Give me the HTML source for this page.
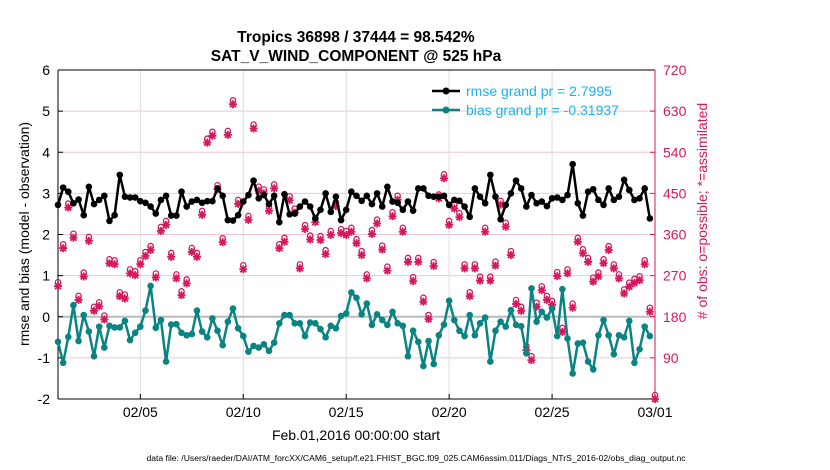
<!DOCTYPE html>
<html><head><meta charset="utf-8"><style>
body{margin:0;background:#fff;}
svg{display:block;font-family:"Liberation Sans",sans-serif;}
</style></head><body>
<svg id="chart" width="830" height="470" viewBox="0 0 830 470" xmlns="http://www.w3.org/2000/svg">
<rect width="830" height="470" fill="#fff"/>
<text x="356" y="42" text-anchor="middle" font-size="15.5" font-weight="bold">Tropics 36898 / 37444 = 98.542%</text>
<text x="356" y="61" text-anchor="middle" font-size="15.5" font-weight="bold">SAT_V_WIND_COMPONENT @ 525 hPa</text>
<g id="grid"></g>
<g id="axes"></g>
<g id="marks"></g>
<g>
<line x1="432" y1="91" x2="460" y2="91" stroke="#000" stroke-width="2.5"/><circle cx="446" cy="91" r="3.5" fill="#000"/>
<text x="466" y="96" font-size="14" fill="#1ab2f0">rmse grand pr = 2.7995</text>
<line x1="432" y1="110" x2="460" y2="110" stroke="#0a8482" stroke-width="2.5"/><circle cx="446" cy="110" r="3.5" fill="#0a8482"/>
<text x="466" y="115" font-size="14" fill="#1ab2f0">bias grand pr = -0.31937</text>
</g>
<text transform="translate(29,234) rotate(-90)" text-anchor="middle" font-size="14">rmse and bias (model - observation)</text>
<text transform="translate(707,211) rotate(-90)" text-anchor="middle" font-size="14" fill="#d6185e"># of obs: o=possible; *=assimilated</text>
<text x="356" y="440" text-anchor="middle" font-size="14">Feb.01,2016 00:00:00 start</text>
<text x="416" y="461" text-anchor="middle" font-size="8.6">data file: /Users/raeder/DAI/ATM_forcXX/CAM6_setup/f.e21.FHIST_BGC.f09_025.CAM6assim.011/Diags_NTrS_2016-02/obs_diag_output.nc</text>
</svg>
<script>
const dayStep = 0.25;
const rmse = [2.72,3.14,3.04,2.76,2.85,2.47,3.16,2.74,2.84,2.94,
2.33,2.47,3.45,2.92,2.90,2.90,2.81,2.77,2.68,2.51,
2.84,2.94,2.46,2.46,3.04,2.68,2.80,2.84,2.77,2.81,
2.81,3.12,2.94,2.35,2.34,2.47,2.80,2.96,3.31,2.88,
2.96,2.74,2.94,2.30,2.98,2.49,2.51,2.68,2.80,2.68,
2.39,2.60,3.00,2.55,2.92,
2.35,2.60,3.04,2.94,2.82,2.94,2.74,3.00,2.68,3.16,
2.80,2.77,2.60,2.80,2.58,3.12,3.12,2.94,2.92,2.92,
2.94,2.72,2.84,2.82,2.68,2.43,3.12,2.92,2.76,3.45,
2.92,2.37,2.72,3.00,3.31,3.12,2.68,2.96,2.76,2.80,
2.69,2.88,2.90,2.84,2.96,3.71,2.76,2.46,3.04,3.10,
2.84,2.72,3.12,2.84,2.92,3.33,3.08,2.84,2.88,3.12,2.39];
const bias = [-0.61,-1.12,-0.49,0.28,-0.59,0.04,-0.36,-0.96,-0.24,-0.75,
-0.22,-0.26,-0.26,-0.10,-0.57,-0.39,-0.24,0.15,0.75,-0.27,
-0.08,-1.09,-0.19,-0.18,-0.39,-0.45,-0.42,0.15,-0.36,-0.50,
-0.04,-0.34,-0.69,-0.12,0.20,-0.28,-0.47,-0.85,-0.71,-0.75,
-0.67,-0.83,-0.63,-0.16,0.04,0.04,-0.16,-0.16,-0.47,-0.14,
-0.16,-0.30,-0.50,-0.22,-0.28,
0.02,0.08,0.59,0.46,0.06,0.32,-0.20,0.06,-0.08,-0.20,
0.12,-0.16,-0.22,-0.96,-0.34,-0.61,-1.20,-0.59,-1.15,-0.45,
-0.19,0.39,-0.08,-0.34,-0.47,0.04,-0.45,-0.16,-0.02,-1.09,
-0.34,-0.12,-0.24,0.16,-0.20,-0.23,-0.89,0.69,-0.12,0.12,
-0.02,0.20,-0.47,0.67,-0.53,-1.38,-0.65,-0.63,-1.09,-1.28,
-0.45,-0.08,-0.45,-0.91,-0.45,-0.50,-0.10,-1.12,-0.79,-0.24,-0.47];
const obsCount = [247,330,419,353,217,268,346,193,203,174,
297,295,225,220,275,271,295,313,326,266,
368,381,311,264,227,253,322,311,403,561,
576,459,343,578,645,427,284,392,592,456,
450,412,461,330,344,435,408,286,372,349,
387,348,317,359,422,
363,359,366,341,315,264,361,384,327,281,
400,436,366,300,258,300,213,175,291,439,
483,381,417,398,286,225,286,259,366,259,
292,425,377,315,208,193,107,85,202,238,
217,206,269,147,275,200,344,319,300,257,
268,297,326,286,264,231,246,254,260,295,191,0];
const xTickLabels = ["02/05","02/10","02/15","02/20","02/25","03/01"];
const xTickDays = [4,9,14,19,24,29];
const yLeftTicks = [6,5,4,3,2,1,0,-1,-2];
const yRightTicks = [720,630,540,450,360,270,180,90];

const NS="http://www.w3.org/2000/svg";
const X0=58,X1=655,Y0=70,Y1=399,DAYS=29;
const xS=d=>X0+d*(X1-X0)/DAYS;
const yL=v=>Y1-(v+2)*(Y1-Y0)/8;
const yR=c=>Y1-c*(Y1-Y0)/720;
function mk(tag,attrs,parent){const e=document.createElementNS(NS,tag);for(const k in attrs)e.setAttribute(k,attrs[k]);parent.appendChild(e);return e;}
const grid=document.getElementById('grid'),axes=document.getElementById('axes'),marks=document.getElementById('marks');

yLeftTicks.forEach(v=>{
  if(v>-2&&v<6){const g=mk('line',{x1:X0,x2:X1,y1:yL(v),y2:yL(v),stroke:'#f2c6d6','stroke-width':1},grid);
  
  }
  const t=mk('text',{x:X0-8,y:yL(v)+5,'text-anchor':'end','font-size':14},axes);t.textContent=v;
  
  
  mk('line',{x1:X0,x2:X0+5,y1:yL(v),y2:yL(v),stroke:'#000'},axes);
});
xTickDays.forEach((d,i)=>{
  if(d<DAYS){const g=mk('line',{x1:xS(d),x2:xS(d),y1:Y0,y2:Y1,stroke:'#dcdcdc','stroke-width':1},grid);
  
  }
  const t=mk('text',{x:xS(d),y:Y1+18,'text-anchor':'middle','font-size':14},axes);t.textContent=xTickLabels[i];
  
  
  mk('line',{x1:xS(d),x2:xS(d),y1:Y1,y2:Y1-5,stroke:'#000'},axes);
});
yRightTicks.forEach(c=>{
  const t=mk('text',{x:X1+8,y:yR(c)+5,'font-size':14,fill:'#d6185e'},axes);t.textContent=c;
  
  
  mk('line',{x1:X1,x2:X1-5,y1:yR(c),y2:yR(c),stroke:'#d6185e'},axes);
});
const zl=mk('line',{x1:X0,x2:X1,y1:yL(0),y2:yL(0),stroke:'#bbb','stroke-width':2},grid);


mk('line',{x1:X0,x2:X0,y1:Y0,y2:Y1,stroke:'#000'},axes);
mk('line',{x1:X0,x2:X1,y1:Y0,y2:Y0,stroke:'#000'},axes);
mk('line',{x1:X0,x2:X1,y1:Y1,y2:Y1,stroke:'#000'},axes);
mk('line',{x1:X1,x2:X1,y1:Y0,y2:Y1,stroke:'#d6185e'},axes);

obsCount.forEach((c,i)=>{
  const x=xS(i*dayStep),y=yR(c);
  const g=mk('g',{},marks);
  
  
  mk('circle',{cx:x,cy:y-4,r:2.6,fill:'none',stroke:'#d6185e','stroke-width':1.3},g);
  mk('path',{d:`M${x-4} ${y}h8M${x} ${y-4}v8M${x-3} ${y-3}l6 6M${x-3} ${y+3}l6 -6`,stroke:'#d6185e','stroke-width':1.8},g);
});
function series(arr,color,name){
  const pts=arr.map((v,i)=>xS(i*dayStep)+','+yL(v)).join(' ');
  const pl=mk('polyline',{points:pts,fill:'none',stroke:color,'stroke-width':2.5,'stroke-linejoin':'round'},marks);
  
  
  arr.forEach((v,i)=>{
    const c=mk('circle',{cx:xS(i*dayStep),cy:yL(v),r:3.3,fill:color},marks);
    
    
  });
}
series(bias,'#0a8482','bias');
series(rmse,'#000','rmse');
</script>
</body></html>
